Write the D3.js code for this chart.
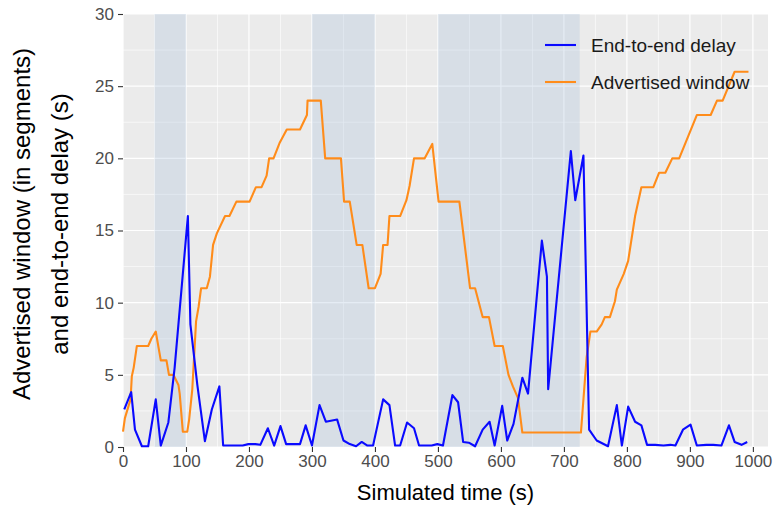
<!DOCTYPE html>
<html>
<head>
<meta charset="utf-8">
<script src="https://cdn.jsdelivr.net/npm/d3@7"></script>
<style>
  html, body { margin: 0; padding: 0; background: #fff; }
  svg { display: block; font-family: "Liberation Sans", Arial, sans-serif; }
</style>
</head>
<body>
<svg id="chart" width="777" height="510"></svg>
<script>
// Simulated time (s) and end-to-end delay (s)
const delayTime = [2, 13, 19, 30, 40, 52, 60, 72, 82, 92, 103, 107, 118, 130, 141, 153, 159, 170, 180, 190,
  199, 210, 218, 230, 240, 250, 259, 270, 281, 290, 300, 312, 322, 340, 350, 360, 370, 379, 388, 397,
  413, 423, 432, 440, 451, 462, 470, 480, 490, 499, 508, 523, 532, 540, 549, 559, 571, 582, 590, 602,
  610, 620, 634, 643, 665, 673, 675, 711, 718, 731, 740, 752, 770, 784, 792, 802, 813, 823, 832, 845,
  858, 869, 877, 889, 901, 911, 926, 937, 950, 962, 971, 982, 991];
const delayValue = [2.6, 3.8, 1.2, 0.05, 0.05, 3.3, 0.1, 1.7, 5.5, 10.5, 16.0, 8.5, 4.3, 0.4, 2.6, 4.2, 0.1, 0.1, 0.1, 0.1,
  0.2, 0.2, 0.15, 1.3, 0.1, 1.45, 0.2, 0.2, 0.2, 1.5, 0.1, 2.9, 1.75, 1.9, 0.45, 0.2, 0.05, 0.35, 0.1, 0.1,
  3.3, 2.9, 0.1, 0.1, 1.7, 1.3, 0.1, 0.1, 0.1, 0.2, 0.1, 3.6, 3.1, 0.35, 0.3, 0.05, 1.2, 1.75, 0.1, 2.85,
  0.45, 1.6, 4.8, 3.7, 14.3, 11.8, 4.0, 20.5, 17.1, 20.2, 1.2, 0.45, 0.05, 2.9, 0.1, 2.8, 1.75, 1.5, 0.15, 0.15,
  0.1, 0.15, 0.1, 1.2, 1.55, 0.1, 0.15, 0.15, 0.1, 1.5, 0.35, 0.15, 0.35];

// Simulated time (s) and advertised window (segments)
const windowTime = [0, 3, 12, 14, 17, 22, 40, 45, 52, 60, 69, 73, 80, 88, 90, 95, 102, 105, 110, 116,
  120, 124, 133, 138, 143, 149, 162, 169, 180, 201, 211, 220, 228, 232, 239, 249, 260, 281, 292, 293,
  314, 321, 346, 351, 360, 371, 380, 390, 400, 409, 413, 420, 423, 440, 450, 455, 462, 479, 491, 501,
  534, 551, 559, 571, 581, 590, 603, 612, 619, 627, 634, 727, 736, 742, 752, 760, 765, 773, 781, 784,
  795, 802, 813, 823, 842, 851, 861, 872, 883, 911, 933, 943, 952, 971, 993];
const windowValue = [1.06, 2.0, 3.3, 4.9, 5.5, 7.0, 7.0, 7.5, 8.0, 6.0, 6.0, 5.0, 5.0, 4.3, 3.7, 1.06, 1.06, 1.9, 4.0, 8.7,
  9.7, 11.0, 11.0, 11.8, 14.0, 14.8, 16.0, 16.0, 17.0, 17.0, 18.0, 18.0, 18.8, 20.0, 20.0, 21.1, 22.0, 22.0, 23.0, 24.0,
  24.0, 20.0, 20.0, 17.0, 17.0, 14.0, 14.0, 11.0, 11.0, 12.0, 14.0, 14.0, 16.0, 16.0, 17.1, 18.1, 20.0, 20.0, 21.0, 17.0,
  17.0, 11.0, 11.0, 9.0, 9.0, 7.0, 7.0, 5.0, 4.2, 3.4, 1.0, 1.0, 6.2, 8.0, 8.0, 8.5, 9.0, 9.0, 10.1, 10.9,
  12.0, 12.9, 16.0, 18.0, 18.0, 19.0, 19.0, 20.0, 20.0, 23.0, 23.0, 24.0, 24.0, 26.0, 26.0];

// Highlighted time intervals (s)
const bandStart = [50, 300, 500];
const bandEnd = [100, 400, 725];

const xTicks = [0, 100, 200, 300, 400, 500, 600, 700, 800, 900, 1000];
const yTicks = [0, 5, 10, 15, 20, 25, 30];

const seriesNames = ["End-to-end delay", "Advertised window"];
const seriesColors = ["#0a0aff", "#ff8c1a"];

const svg = d3.select("#chart");
const panel = { left: 123, right: 768, top: 14, bottom: 447 };

const x = d3.scaleLinear().domain([0, 1024]).range([panel.left, panel.right]);
const y = d3.scaleLinear().domain([0, 30]).range([panel.bottom, panel.top]);

// panel background
svg.append("rect")
  .attr("x", panel.left).attr("y", panel.top)
  .attr("width", panel.right - panel.left).attr("height", panel.bottom - panel.top)
  .attr("fill", "#ebebeb");

const grid = svg.append("g");
// minor grid
d3.range(50, 1024, 100).forEach(v => grid.append("line")
  .attr("x1", x(v)).attr("x2", x(v)).attr("y1", panel.top).attr("y2", panel.bottom)
  .attr("stroke", "#fff").attr("stroke-width", 0.6));
d3.range(2.5, 30, 5).forEach(v => grid.append("line")
  .attr("x1", panel.left).attr("x2", panel.right).attr("y1", y(v)).attr("y2", y(v))
  .attr("stroke", "#fff").attr("stroke-width", 0.6));
// major grid
xTicks.forEach(v => grid.append("line")
  .attr("x1", x(v)).attr("x2", x(v)).attr("y1", panel.top).attr("y2", panel.bottom)
  .attr("stroke", "#fff").attr("stroke-width", 1.2));
yTicks.forEach(v => grid.append("line")
  .attr("x1", panel.left).attr("x2", panel.right).attr("y1", y(v)).attr("y2", y(v))
  .attr("stroke", "#fff").attr("stroke-width", 1.2));

// shaded intervals
svg.append("g").selectAll("rect")
  .data(d3.range(bandStart.length))
  .join("rect")
  .attr("x", i => x(bandStart[i]))
  .attr("width", i => x(bandEnd[i]) - x(bandStart[i]))
  .attr("y", panel.top).attr("height", panel.bottom - panel.top)
  .attr("fill", "#b0c4de").attr("opacity", 0.33);

// lines
const line = d3.line().x(d => x(d[0])).y(d => y(d[1]));
const delayPts = delayTime.map((t, i) => [t, delayValue[i]]);
const windowPts = windowTime.map((t, i) => [t, windowValue[i]]);

svg.append("path").datum(windowPts)
  .attr("d", line).attr("fill", "none")
  .attr("stroke", seriesColors[1]).attr("stroke-width", 2.1).attr("stroke-linejoin", "round");
svg.append("path").datum(delayPts)
  .attr("d", line).attr("fill", "none")
  .attr("stroke", seriesColors[0]).attr("stroke-width", 2.1).attr("stroke-linejoin", "round");

// axes
const xAxis = svg.append("g")
  .attr("transform", `translate(0,${panel.bottom})`)
  .call(d3.axisBottom(x).tickValues(xTicks).tickFormat(d3.format("d")).tickSize(5).tickPadding(3));
const yAxis = svg.append("g")
  .attr("transform", `translate(${panel.left},0)`)
  .call(d3.axisLeft(y).tickValues(yTicks).tickFormat(d3.format("d")).tickSize(5).tickPadding(4));
[xAxis, yAxis].forEach(a => {
  a.select(".domain").remove();
  a.selectAll(".tick line").attr("stroke", "#333").attr("stroke-width", 1.1);
  a.selectAll(".tick text").attr("fill", "#4d4d4d")
    .style("font-size", "17px").style("font-family", "Liberation Sans, Arial, sans-serif");
});

// axis titles
svg.append("text")
  .attr("x", (panel.left + panel.right) / 2).attr("y", 500)
  .attr("text-anchor", "middle").attr("fill", "#000")
  .style("font-size", "22px").text("Simulated time (s)");
svg.append("text")
  .attr("transform", "translate(30,224) rotate(-90)")
  .attr("text-anchor", "middle").attr("fill", "#000")
  .style("font-size", "24px").text("Advertised window (in segments)");
svg.append("text")
  .attr("transform", "translate(68,224) rotate(-90)")
  .attr("text-anchor", "middle").attr("fill", "#000")
  .style("font-size", "24px").text("and end-to-end delay (s)");

// legend
const legend = svg.append("g");
seriesNames.forEach((name, i) => {
  const ly = 45 + i * 37;
  legend.append("line")
    .attr("x1", 545).attr("x2", 576).attr("y1", ly).attr("y2", ly)
    .attr("stroke", seriesColors[i]).attr("stroke-width", 2.1);
  legend.append("text")
    .attr("x", 591).attr("y", ly).attr("dy", "0.35em")
    .attr("fill", "#1a1a1a").style("font-size", "19px").text(name);
});
</script>
</body>
</html>
